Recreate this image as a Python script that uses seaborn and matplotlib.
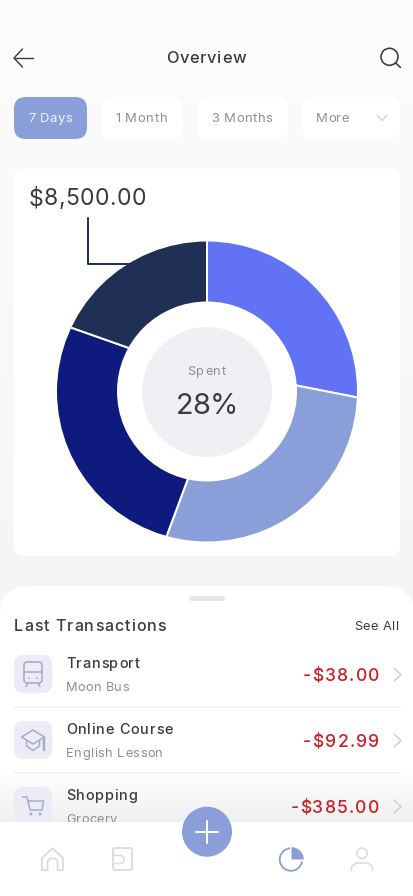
import numpy as np
import matplotlib
matplotlib.use("Agg")
import matplotlib.pyplot as plt
from matplotlib.patches import FancyBboxPatch, Circle, Wedge, Arc, Polygon
from matplotlib.colors import LinearSegmentedColormap
from matplotlib.text import Text
from matplotlib.transforms import IdentityTransform, Bbox
import seaborn as sns

# ---------- data ----------
slice_names = ["Spent", "Transport", "Online Course", "Shopping"]
slice_values = [25, 29, 28.4, 17.6]
slice_colors = ["#6173F4", "#8A9FD9", "#0F1A7E", "#202F55"]
period_labels = ["7 Days", "1 Month", "3 Months", "More"]
tx_titles = ["Transport", "Online Course", "Shopping"]
tx_subtitles = ["Moon Bus", "English Lesson", "Grocery"]
tx_amounts = ["-$38.00", "-$92.99", "-$385.00"]
total_label = "$8,500.00"
center_caption = "Spent"
center_value = "28%"

sns.set_theme(style="white")
plt.rcParams["font.family"] = ["Inter", "DejaVu Sans"]

W, H = 414, 896
fig = plt.figure(figsize=(W / 100, H / 100), dpi=100, facecolor="#FAFAFA")
ui = fig.add_axes([0, 0, 1, 1])
ui.set_xlim(0, W)
ui.set_ylim(H, 0)
ui.axis("off")

DARK = "#3A3A40"
GREY = "#8E8E93"
ACCENT = "#8A9FD9"
PX = 0.72


class SpacedText(Text):
    """One text object, laid out with CSS-like letter spacing to a given width."""

    def __init__(self, x, y, s, width, **kw):
        super().__init__(x, y, s, **kw)
        self._target = width

    def _natural(self, r, s):
        return r.get_text_width_height_descent(s, self.get_fontproperties(), False)[0]

    def get_window_extent(self, renderer=None, dpi=None):
        x, y = self.get_transform().transform(self.get_position())
        px = self.get_fontsize() / PX
        return Bbox.from_extents(x, y - 0.5 * px, x + self._target, y + 0.5 * px)

    def draw(self, renderer):
        s = self.get_text()
        x, y = self.get_transform().transform(self.get_position())
        px = self.get_fontsize() / PX
        base = y - 0.364 * px
        gap = (self._target - self._natural(renderer, s)) / max(len(s) - 1, 1)
        for i, ch in enumerate(s):
            if ch == " ":
                continue
            off = self._natural(renderer, s[:i + 1]) - self._natural(renderer, ch) if i else 0
            t = Text(x + off + i * gap, base, ch, fontproperties=self.get_fontproperties(),
                     color=self.get_color(), ha="left", va="baseline",
                     transform=IdentityTransform())
            t.set_figure(self.figure)
            t.draw(renderer)


def label(x0, x1, y, s, px, color=DARK, z=10, ax=None, weight="normal"):
    """Text spanning x0..x1 px with its capitals centred on y."""
    t = SpacedText(x0, y, s, x1 - x0, fontsize=px * PX, color=color, zorder=z,
                   fontweight=weight, transform=ui.transData)
    t.set_clip_on(False)
    (ax or ui).add_artist(t)
    t.set_transform(ui.transData)
    return t


def rrect(x0, y0, x1, y1, r, fc, z=1):
    p = FancyBboxPatch((x0 + r, y0 + r), x1 - x0 - 2 * r, y1 - y0 - 2 * r,
                       boxstyle=f"round,pad={r},rounding_size={r}",
                       fc=fc, ec="none", zorder=z)
    ui.add_patch(p)
    return p


def stroke(xs, ys, color, lw=1.5, z=10):
    ui.plot(xs, ys, color=color, lw=lw * PX, zorder=z, solid_capstyle="round",
            solid_joinstyle="round")


# page background
bg = LinearSegmentedColormap.from_list("bg", ["#FCFCFC", "#F9F9F9", "#F5F5F6"])
ui.imshow(np.linspace(0, 1, 64).reshape(-1, 1), cmap=bg, extent=(0, W, 600, 0),
          aspect="auto", zorder=0, vmin=0, vmax=1)
ui.set_xlim(0, W)
ui.set_ylim(H, 0)

# ---------- header ----------
stroke([14, 33], [58, 58], DARK, 1.4)
stroke([22.5, 14, 22.5], [49, 58, 67], DARK, 1.4)
label(166, 246, 57, "Overview", 16.5, weight="medium")
ui.add_patch(Circle((389.5, 56.8), 8.5, fc="none", ec=DARK, lw=1.6 * PX, zorder=10))
stroke([395.5, 400.5], [62.8, 67.5], DARK, 1.6)

# ---------- period filter ----------
pill_edges = [(14, 87), (101, 183), (197, 288), (302, 400)]
pill_text = [(28, 72), (115, 167.5), (211.5, 272.5), (316, 349)]
for i, (name, (x0, x1), (t0, t1)) in enumerate(zip(period_labels, pill_edges, pill_text)):
    active = i == 0
    rrect(x0, 97, x1, 139, 12, ACCENT if active else "#FFFFFF")
    label(t0, t1, 117.5, name, 13, "#F2F4FB" if active else GREY)
stroke([377, 382, 387], [115, 120.5, 115], "#CFCFD4", 1.2)

# ---------- chart card ----------
rrect(14, 169, 400, 556, 10, "#FFFFFF")
label(28.5, 146, 197, total_label, 23)
stroke([88, 88, 135], [218, 264.5, 264.5], slice_colors[3], 2, 2)

CX, CY, R = 207, 391.5, 150
PAD = R + 1
pie_ax = fig.add_axes([(CX - PAD) / W, 1 - (CY + PAD) / H, 2 * PAD / W, 2 * PAD / H])
pie_ax.set_zorder(3)
pie_ax.patch.set_alpha(0)
wedges, _ = pie_ax.pie(slice_values, colors=slice_colors, startangle=90, counterclock=False,
                       radius=R, wedgeprops=dict(edgecolor="white", linewidth=2 * PX))
pie_ax.set_xlim(-PAD, PAD)
pie_ax.set_ylim(-PAD, PAD)

# The reference's separators are tilted against the radius; each slice keeps its value
# on the mid-ring and gets its edges rotated by these angles.
edge_tilts = [0.0, 11.1, 6.0, -7.2]
MID = 120.0
starts = np.cumsum([0] + slice_values[:-1]) * 3.6
dirs = starts + np.array(edge_tilts)
pts = np.c_[MID * np.sin(np.radians(starts)), MID * np.cos(np.radians(starts))]
vecs = np.c_[np.sin(np.radians(dirs)), np.cos(np.radians(dirs))]
outline = Circle((0, 0), R, fc="none", ec="none")
pie_ax.add_patch(outline)
n = len(wedges)
for i, w in enumerate(wedges):
    j = (i + 1) % n
    sol = np.linalg.solve(np.c_[vecs[i], -vecs[j]], pts[j] - pts[i])
    w.set_center(tuple(pts[i] + sol[0] * vecs[i]))
    w.set_radius(3 * R)
    w.set_theta2(90 - dirs[i])
    w.set_theta1(90 - dirs[j] - (360 if j == 0 else 0))
    w.set_clip_on(True)
    w.set_clip_path(outline)

pie_ax.add_patch(Circle((0, 0), 90, fc="#FFFFFF", ec="none", zorder=5))
pie_ax.add_patch(Circle((0, -0.5), 65, fc="#F0F0F4", ec="none", zorder=6))
label(187, 226, 370.7, center_caption, 12.8, GREY, z=7, ax=pie_ax)
label(176, 238, 403, center_value, 29, DARK, z=7, ax=pie_ax)

# ---------- bottom sheet ----------
rrect(0, 586, 414, 940, 30, "#FFFFFF", 4)
fade = LinearSegmentedColormap.from_list("f", [(0.93, 0.93, 0.94, 0), (0.93, 0.93, 0.94, 0.85)])
ui.imshow(np.linspace(0, 1, 64).reshape(-1, 1), cmap=fade, extent=(0, W, 822, 772),
          aspect="auto", zorder=4.5, vmin=0, vmax=1)
ui.set_xlim(0, W)
ui.set_ylim(H, 0)

rrect(189, 596, 225, 601, 2.5, "#E6E6EB", 5)
label(14, 166, 625.5, "Last Transactions", 16, z=5, weight="medium")
label(354, 399, 625.5, "See All", 12.8, z=5)

rows_y = [674, 740, 806]
title_spans = [(66, 139.5), (66, 173), (66, 137)]
sub_spans = [(66, 129), (66, 163), (66, 117)]
amount_spans = [(303, 379.5), (303, 379.5), (290.5, 379.5)]
for i, y in enumerate(rows_y):
    rrect(14, y - 19, 52, y + 19, 9, "#ECECF6", 5)
    label(*title_spans[i], y - 11, tx_titles[i], 14.5, z=5, weight="medium")
    label(*sub_spans[i], y + 12, tx_subtitles[i], 12.8, GREY, z=5)
    label(*amount_spans[i], y + 1, tx_amounts[i], 17.5, "#CC1F27", z=5, weight="medium")
    stroke([394, 401, 394], [y - 6, y + 0.5, y + 7], "#C8C8CC", 1.2, 6)
    if i < 2:
        ui.plot([14, 400], [y + 33, y + 33], color="#F4F4F6", lw=2 * PX, zorder=5)

IC = "#A9A9CC"
# train
rrect(24, 662, 42, 683, 3, "none", 6).set(ec=IC, lw=1.6 * PX)
stroke([24, 42], [672.5, 672.5], IC, 1.5, 7)
stroke([28, 26], [683, 686.5], IC, 1.5, 7)
stroke([38, 40], [683, 686.5], IC, 1.5, 7)
ui.add_patch(Circle((29, 678), 0.9, fc=IC, ec="none", zorder=7))
ui.add_patch(Circle((37, 678), 0.9, fc=IC, ec="none", zorder=7))
# graduation cap
ui.add_patch(Polygon([[21.5, 737], [33, 730], [44.5, 737], [33, 744]], closed=True,
                     fc="none", ec=IC, lw=1.5 * PX, zorder=7))
stroke([26.5, 26.5, 33, 39.5, 39.5], [741, 746, 750.5, 746, 741], IC, 1.5, 7)
stroke([44, 44], [737, 750], IC, 2.4, 7)
# cart
stroke([22.5, 27, 30, 42, 43.5, 28], [797, 797, 810, 810, 801, 801], IC, 1.5, 7)
ui.add_patch(Circle((31, 814), 1.5, fc=IC, ec="none", zorder=7))
ui.add_patch(Circle((40, 814), 1.5, fc=IC, ec="none", zorder=7))

# ---------- nav bar ----------
ui.fill_between([0, W], 822, H, color="#FFFFFF", lw=0, zorder=9)
NAV = "#DADAE2"
# home
stroke([42, 42, 52.5, 63, 63, 57.5, 57.5, 55, 50, 47.5, 47.5, 42],
       [870, 858, 848.5, 858, 870, 870, 861, 858.5, 858.5, 861, 870, 870], NAV, 1.8, 11)
# wallet
rrect(113, 848, 132, 870, 2, "none", 11).set(ec=NAV, lw=1.8 * PX)
stroke([113, 122, 124.5, 122, 113], [855.5, 855.5, 859.5, 863.5, 863.5], NAV, 1.5, 11)
# plus button
ui.add_patch(Circle((207, 831.7), 25, fc=ACCENT, ec="none", zorder=12))
stroke([196, 218], [831.7, 831.7], "#FFFFFF", 2, 13)
stroke([207, 207], [820.7, 842.7], "#FFFFFF", 2, 13)
# pie tab
ui.add_patch(Arc((291, 859.5), 22.5, 22.5, angle=0, theta1=10, theta2=265,
                 ec=ACCENT, lw=1.8 * PX, zorder=11))
ui.add_patch(Wedge((291.5, 859.5), 12.3, 270, 360, fc=ACCENT, ec="none", zorder=11))
# person
ui.add_patch(Circle((362, 853.3), 5.2, fc="none", ec=NAV, lw=1.6 * PX, zorder=11))
stroke([351.5, 351.5, 356, 368, 372.5, 372.5], [870.5, 867, 863, 863, 867, 870.5], NAV, 1.6, 11)

fig.savefig("out.png", dpi=100, facecolor=fig.get_facecolor())
